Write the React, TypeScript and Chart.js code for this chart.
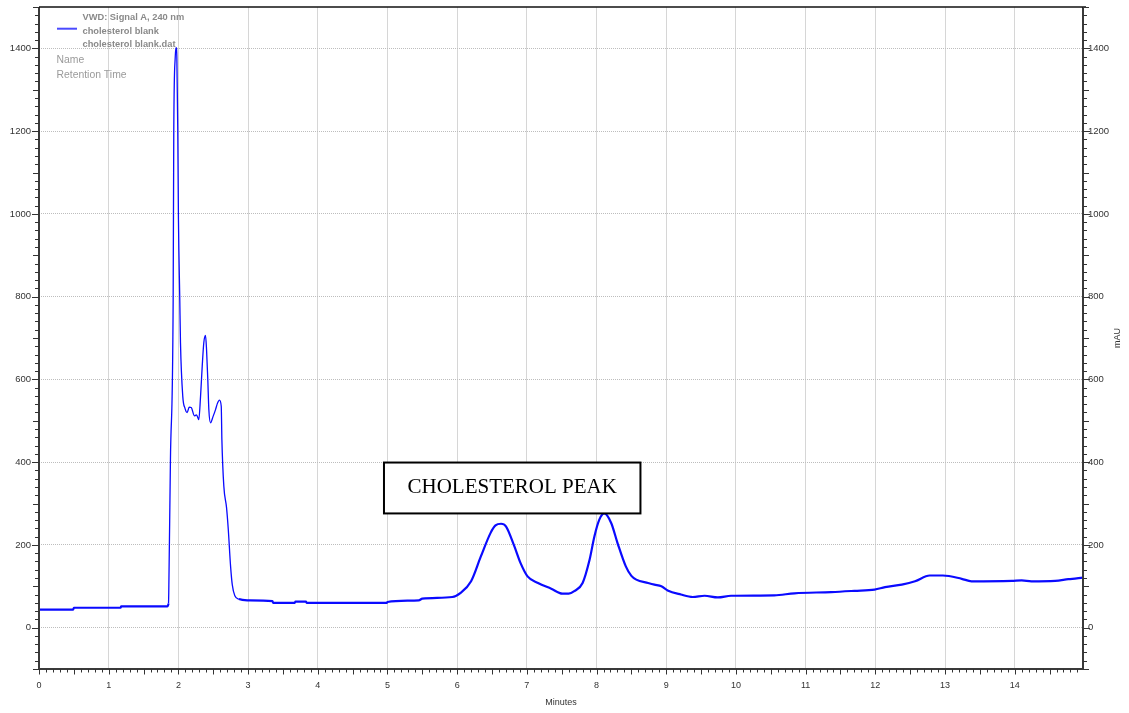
import React, { useEffect, useRef } from "react";
import { Chart, registerables } from "chart.js";

Chart.register(...registerables);

// Retention time (minutes)
const TIMES = [
  0, 0.49, 0.5, 1.17, 1.18, 1.84, 1.858, 1.862, 1.886, 1.925, 1.934, 1.955, 1.968, 1.978, 1.991,
  2.001, 2.02, 2.03, 2.063, 2.095, 2.126, 2.155, 2.184, 2.23, 2.26, 2.293, 2.318, 2.342, 2.365,
  2.389, 2.404, 2.422, 2.437, 2.461, 2.497, 2.533, 2.56, 2.59, 2.615, 2.624, 2.652, 2.691, 2.716,
  2.749, 2.773, 2.81, 2.868, 2.99, 3.35, 3.36, 3.67, 3.68, 3.83, 3.84, 4.99, 5.0, 5.45, 5.5,
  5.93, 6.05, 6.2, 6.34, 6.48, 6.55, 6.63, 6.7, 6.82, 6.91, 7.01, 7.16, 7.35, 7.51, 7.6, 7.68,
  7.8, 7.9, 7.97, 8.04, 8.11, 8.21, 8.3, 8.42, 8.5, 8.57, 8.74, 8.83, 8.93, 9.02, 9.21, 9.38,
  9.55, 9.74, 9.93, 10.55, 10.84, 11.37, 11.7, 11.99, 12.14, 12.38, 12.57, 12.78, 12.97, 13.24,
  13.38, 13.96, 14.1, 14.24, 14.58, 14.77, 14.89, 14.98,
];

// Detector signal (mAU)
const SIGNAL = [
  43.5, 43.5, 48, 48, 51.5, 51.5, 58, 85, 406, 793, 1204, 1380, 1402, 1380, 1204,
  986, 793, 689, 559, 530, 520, 533, 532, 512, 514, 503, 559, 632, 689,
  706, 672, 600, 527, 495, 510, 527, 542, 550, 535, 455, 342, 290, 237,
  148, 104, 77, 69, 66, 64, 60, 60, 63, 63, 60, 60, 62, 66, 70,
  74, 84, 112, 172, 229, 247, 251, 245, 197, 156, 124, 108, 94, 82, 82, 88,
  108, 164, 221, 261, 276, 253, 205, 148, 125, 116, 108, 104, 100, 90, 80, 74,
  77, 73, 77, 78, 83, 86, 89, 92, 98, 104, 112, 126, 126, 118,
  112, 113, 114, 112, 113, 117, 119, 121,
];

const X_TICKS = [0, 1, 2, 3, 4, 5, 6, 7, 8, 9, 10, 11, 12, 13, 14];
const Y_TICKS = [0, 200, 400, 600, 800, 1000, 1200, 1400];

const LEGEND_LINES = ["VWD: Signal A, 240 nm", "cholesterol blank", "cholesterol blank.dat"];
const INFO_LINES = ["Name", "Retention Time"];
const ANNOTATION_TEXT = "CHOLESTEROL PEAK";
const X_TITLE = "Minutes";
const Y_TITLE = "mAU";

const X_MIN = 0;
const X_MAX = 14.98;
const Y_MIN = -100;
const Y_MAX = 1500;

// annotation box in data units
const BOX = { x0: 4.95, x1: 8.63, y0: 276, y1: 399 };

const FONT = "'Liberation Sans', Arial, Helvetica, sans-serif";

const noPad = (s: any) => {
  s.paddingTop = 0;
  s.paddingBottom = 0;
  s.paddingLeft = 0;
  s.paddingRight = 0;
};

const decorPlugin = {
  id: "decor",
  afterDatasetsDraw(chart: any) {
    const { ctx, chartArea: a, scales } = chart;
    const xs = scales.x;
    const ys = scales.y;
    ctx.save();

    // frame
    ctx.strokeStyle = "#3a3a3a";
    ctx.lineWidth = 2;
    ctx.beginPath();
    ctx.moveTo(a.left, a.top);
    ctx.lineTo(a.left, a.bottom);
    ctx.lineTo(a.right, a.bottom);
    ctx.lineTo(a.right, a.top);
    ctx.stroke();
    ctx.strokeStyle = "#111";
    ctx.lineWidth = 1.5;
    ctx.beginPath();
    ctx.moveTo(a.left, a.top);
    ctx.lineTo(a.right + 3, a.top);
    ctx.stroke();

    // x tick marks
    ctx.strokeStyle = "#333";
    ctx.lineWidth = 1;
    ctx.beginPath();
    for (let i = 0; i <= Math.floor(X_MAX * 10); i++) {
      const px = Math.round(xs.getPixelForValue(i / 10)) + 0.5;
      const len = i % 5 === 0 ? 4.5 : 2.5;
      ctx.moveTo(px, a.bottom);
      ctx.lineTo(px, a.bottom + 1 + len);
    }
    // y tick marks (left and right)
    for (let v = Y_MIN; v <= Y_MAX; v += 20) {
      const py = Math.round(ys.getPixelForValue(v)) + 0.5;
      const len = v % 200 === 0 ? 6 : v % 100 === 0 ? 5 : 3;
      ctx.moveTo(a.left, py);
      ctx.lineTo(a.left - 1 - len, py);
      ctx.moveTo(a.right, py);
      ctx.lineTo(a.right + 1 + len, py);
    }
    ctx.stroke();

    // annotation box
    const bx0 = xs.getPixelForValue(BOX.x0);
    const bx1 = xs.getPixelForValue(BOX.x1);
    const by0 = ys.getPixelForValue(BOX.y1);
    const by1 = ys.getPixelForValue(BOX.y0);
    ctx.fillStyle = "#ffffff";
    ctx.fillRect(bx0, by0, bx1 - bx0, by1 - by0);
    ctx.strokeStyle = "#000";
    ctx.lineWidth = 2;
    ctx.strokeRect(bx0, by0, bx1 - bx0, by1 - by0);
    ctx.fillStyle = "#000";
    ctx.font = "21px 'Liberation Serif', 'Times New Roman', serif";
    ctx.textAlign = "center";
    ctx.textBaseline = "alphabetic";
    ctx.fillText(ANNOTATION_TEXT, (bx0 + bx1) / 2, by0 + 30.5);

    // legend block
    ctx.strokeStyle = "#4a4aff";
    ctx.lineWidth = 2;
    ctx.beginPath();
    ctx.moveTo(57, 28.7);
    ctx.lineTo(77, 28.7);
    ctx.stroke();
    ctx.textAlign = "left";
    ctx.fillStyle = "#8a8a8a";
    ctx.font = "bold 9.3px " + FONT;
    LEGEND_LINES.forEach((t, i) => ctx.fillText(t, 82.5, 20.3 + i * 13.2));
    ctx.fillStyle = "#9a9a9a";
    ctx.font = "10.4px " + FONT;
    INFO_LINES.forEach((t, i) => ctx.fillText(t, 56.5, 63.3 + i * 14.4));

    // right axis title
    ctx.save();
    ctx.translate(1118, (a.top + a.bottom) / 2);
    ctx.rotate(-Math.PI / 2);
    ctx.fillStyle = "#333";
    ctx.font = "9px " + FONT;
    ctx.textAlign = "center";
    ctx.textBaseline = "middle";
    ctx.fillText(Y_TITLE, 0, 0);
    ctx.restore();

    ctx.restore();
  },
};

export default function App() {
  const ref = useRef<HTMLCanvasElement | null>(null);

  useEffect(() => {
    if (!ref.current) return;
    const points = TIMES.map((t, i) => ({ x: t, y: SIGNAL[i] }));
    const chart = new Chart(ref.current, {
      type: "line",
      data: {
        datasets: [
          {
            data: points,
            borderColor: "#0a0aff",
            borderWidth: 2,
            pointRadius: 0,
            cubicInterpolationMode: "monotone",
            fill: false,
            segment: {
              borderWidth: (c: any) =>
                c.p0.parsed.x >= 1.85 && c.p1.parsed.x <= 2.95 ? 1.3 : 2.2,
            },
          },
        ],
      },
      options: {
        animation: false,
        responsive: false,
        devicePixelRatio: 1,
        layout: { padding: { top: 7, left: 0, right: 0, bottom: 0 } },
        plugins: { legend: { display: false }, tooltip: { enabled: false } },
        scales: {
          x: {
            type: "linear",
            min: X_MIN,
            max: X_MAX,
            afterBuildTicks: (s: any) => {
              s.ticks = X_TICKS.map((v) => ({ value: v }));
            },
            afterFit: (s: any) => {
              s.height = 44;
              noPad(s);
            },
            grid: { color: "#d6d6d6", lineWidth: 1, drawTicks: false },
            border: { display: false },
            ticks: {
              color: "#333",
              font: { size: 9, family: FONT },
              padding: 11,
              maxRotation: 0,
              autoSkip: false,
              callback: (v: any) => String(v),
            },
            title: {
              display: true,
              text: X_TITLE,
              color: "#333",
              font: { size: 9, family: FONT },
              padding: { top: 0, bottom: 5 },
            },
          },
          y: {
            type: "linear",
            position: "left",
            min: Y_MIN,
            max: Y_MAX,
            afterBuildTicks: (s: any) => {
              s.ticks = Y_TICKS.map((v) => ({ value: v }));
            },
            afterFit: (s: any) => {
              s.width = 39;
              noPad(s);
            },
            grid: { color: "#bdbdbd", lineWidth: 1, drawTicks: false },
            border: { display: false, dash: [1, 1] },
            ticks: {
              color: "#333",
              font: { size: 9.5, family: FONT },
              padding: 8,
              callback: (v: any) => String(v),
            },
          },
          y2: {
            type: "linear",
            position: "right",
            min: Y_MIN,
            max: Y_MAX,
            afterBuildTicks: (s: any) => {
              s.ticks = Y_TICKS.map((v) => ({ value: v }));
            },
            afterFit: (s: any) => {
              s.width = 46;
              noPad(s);
            },
            grid: { drawOnChartArea: false, drawTicks: false },
            border: { display: false },
            ticks: {
              color: "#333",
              font: { size: 9.5, family: FONT },
              padding: 5,
              callback: (v: any) => String(v),
            },
          },
        },
      },
      plugins: [decorPlugin],
    });
    return () => chart.destroy();
  }, []);

  return (
    <div style={{ position: "absolute", left: 0, top: 0, width: 1129, height: 713, background: "#fff" }}>
      <canvas ref={ref} width={1129} height={713} style={{ display: "block" }} />
    </div>
  );
}
